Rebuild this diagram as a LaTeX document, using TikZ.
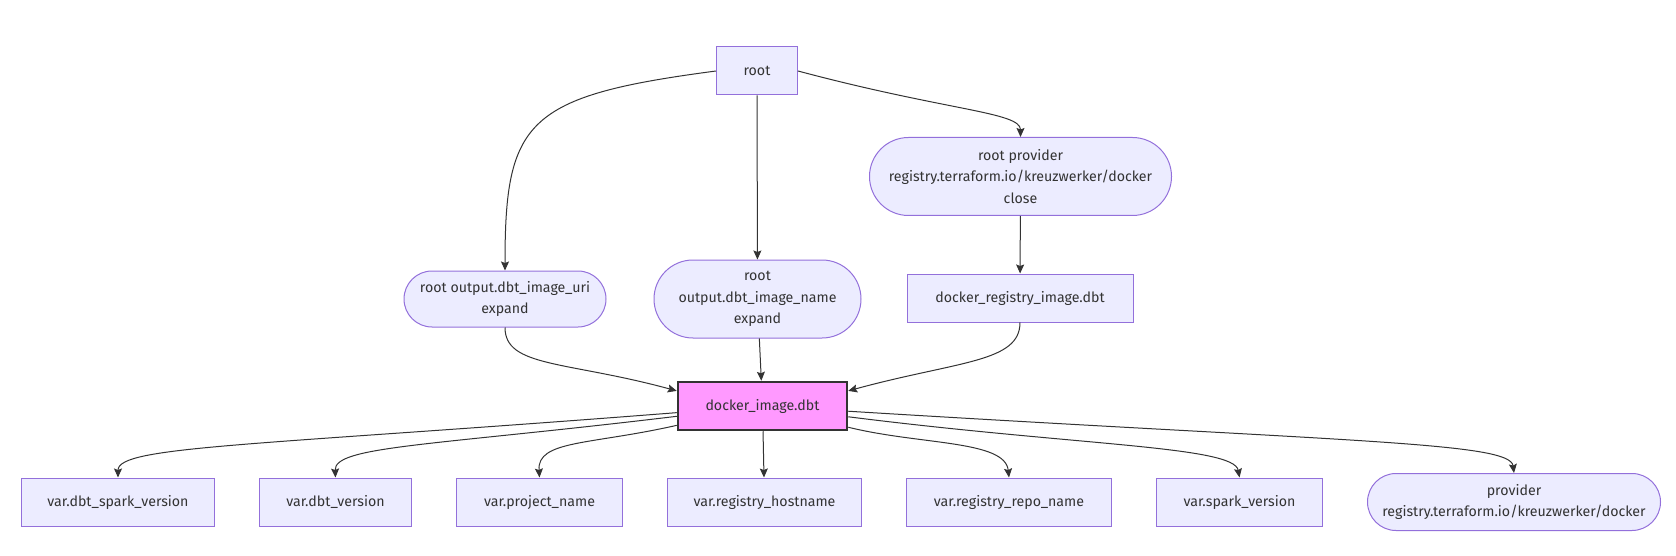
\documentclass[tikz,border=0pt]{standalone}
\usepackage{fontspec}
\setmainfont{Fira Sans}
\usepackage{tikz}
\usetikzlibrary{positioning,arrows.meta,shapes.misc}

\definecolor{nodefill}{HTML}{ECECFF}
\definecolor{nodeline}{HTML}{9370DB}
\definecolor{hotfill}{HTML}{FF99FF}
\definecolor{ink}{HTML}{333333}

\tikzset{
  box/.style={draw=nodeline,fill=nodefill,line width=1pt,text=ink,align=center,
    minimum height=48pt,inner sep=2pt,font=\fontsize{14.2pt}{21.5pt}\selectfont},
  pill/.style={box,rounded rectangle},
  hot/.style={box,draw=ink,fill=hotfill,line width=2.5pt},
  edge/.style={draw=ink,line width=1pt,->}
}

\begin{document}
\begin{tikzpicture}[x=1pt,y=-1pt,>={Stealth[length=9pt,width=8pt,inset=1.5pt]}]
\useasboundingbox (0,0) rectangle (1676,556);

% top and middle rows
\node (root) [box,minimum width=81pt] at (757,71) {root};
\node (rprov) [pill,minimum width=306pt,minimum height=78pt] at (1020.5,176.5)
  {root provider\\registry.terraform.io/kreuzwerker/docker\\close};
\node (uri) [pill,minimum width=206pt,minimum height=56pt] at (505,299)
  {root output.dbt\_image\_uri\\expand};
\node (name) [pill,minimum width=211pt,minimum height=78pt] at (757.5,299)
  {root\\output.dbt\_image\_name\\expand};
\node (reg) [box,minimum width=226pt] at (1020,298) {docker\_registry\_image.dbt};
\node (img) [hot,minimum width=169pt] at (762.5,406) {docker\_image.dbt};

% bottom row
\node (v1) [box,minimum width=193pt] at (118,502) {var.dbt\_spark\_version};
\node (v2) [box,minimum width=152pt,right=44pt of v1] {var.dbt\_version};
\node (v3) [box,minimum width=166pt,right=44pt of v2] {var.project\_name};
\node (v4) [box,minimum width=194pt,right=44pt of v3] {var.registry\_hostname};
\node (v5) [box,minimum width=205pt,right=44pt of v4] {var.registry\_repo\_name};
\node (v6) [box,minimum width=166pt,right=44pt of v5] {var.spark\_version};
\node (prov) [pill,minimum width=297pt,minimum height=57pt,right=44pt of v6]
  {provider\\registry.terraform.io/kreuzwerker/docker};

\draw[edge] (root.west) .. controls +(-190,25) and +(0,-150) .. (uri.north);
\draw[edge] (root) -- (name);
\draw[edge] (root.east) .. controls +(150,40) and +(0,-25) .. (rprov.north);
\draw[edge] (rprov) -- (reg);

\draw[edge] (uri.south) .. controls +(0,40) and +(-110,-30) .. (img.170);
\draw[edge] (name) -- (img);
\draw[edge] (reg.south) .. controls +(0,40) and +(110,-30) .. (img.10);

\draw[edge] (img) .. controls (250,446) and (118,446) .. (v1.north);
\draw[edge] (img) .. controls (430,446) and (334,446) .. (v2.north);
\draw[edge] (img) .. controls (590,445) and (537,440) .. (v3.north);
\draw[edge] (img) -- (v4);
\draw[edge] (img) .. controls (920,445) and (1005,440) .. (v5.north);
\draw[edge] (img) .. controls (1080,446) and (1234,446) .. (v6.north);
\draw[edge] (img) .. controls (1350,442) and (1510,442) .. (prov.north);
\end{tikzpicture}
\end{document}
